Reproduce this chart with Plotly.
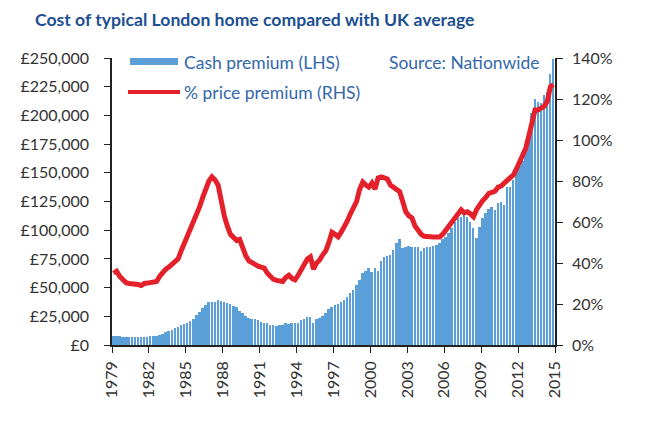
import plotly.graph_objects as go

# Quarterly data, 1979 Q1 .. 2014 Q4
years = list(range(1979, 2015))
quarters = [1, 2, 3, 4]

cash_premium = [
    7800, 7800, 7500, 7000,
    6800, 6800, 6800, 7000,
    7200, 7000, 7200, 7400,
    7500, 7600, 8000, 8800,
    10000, 11000, 12000, 13000,
    14500, 16000, 17000, 18500,
    19500, 20500, 23000, 26000,
    29000, 32000, 35000, 37700,
    37700, 37500, 39000, 38000,
    37700, 36500, 35500, 34000,
    33000, 30000, 28000, 25000,
    23500, 23000, 22400, 22000,
    20300, 19500, 18900, 17800,
    17400, 16800, 17000, 17500,
    18900, 18500, 18900, 18900,
    18900, 21500, 22400, 24100,
    24500, 19400, 22500, 23200,
    25300, 28000, 31100, 33000,
    34800, 36000, 37700, 39500,
    42000, 45000, 48000, 52000,
    57000, 63000, 64500, 66800,
    63800, 66800, 64500, 73400,
    76400, 77500, 78400, 82700,
    88500, 92300, 84200, 85500,
    86200, 85100, 85100, 85100,
    81900, 84500, 85100, 85100,
    86200, 87500, 88500, 92000,
    94300, 98000, 102000, 107400,
    110500, 111800, 113200, 111800,
    107400, 101600, 92900, 103000,
    110300, 114700, 118200, 120500,
    117600, 123400, 124800, 121900,
    137900, 137900, 143700, 152400,
    156000, 160000, 170000, 181400,
    201800, 214000, 211900, 210500,
    217750, 220600, 236000, 248800,
]

pct_premium = [
    35, 36, 33.5, 31.5,
    30.5, 30, 30, 30,
    29.5, 29, 30, 30.2,
    30.5, 30.5, 31, 33.5,
    35.5, 37, 38, 39.5,
    40.6, 42, 46, 49.5,
    53, 56, 60, 63.5,
    67.5, 72, 76.5, 80,
    82, 80.5, 78, 70,
    63, 58, 54, 52.5,
    51, 51.5, 47, 43.5,
    41, 40, 39, 38.5,
    38, 37.5, 35, 33,
    32, 31.5, 31, 31,
    33, 34, 32.5, 31.8,
    34, 37, 39, 42,
    43, 37, 40, 41.5,
    44, 46, 50, 55,
    54, 52.8, 55, 57.5,
    60.5, 64, 67, 70,
    76, 79.5, 78, 77,
    79, 76, 81.5, 82,
    81.5, 81, 78, 77,
    76, 74.8, 70, 65,
    63, 62, 58, 55.5,
    54, 53, 52.7, 52.7,
    52.7, 52.7, 52.7, 54,
    56, 58, 61, 63,
    65, 66, 64.5, 65,
    64, 62.6, 66, 68.5,
    70.5, 72, 74, 74.5,
    75, 77, 77.5, 79,
    80.5, 82, 83, 86,
    89, 92, 96, 102,
    108, 114.6, 114.6, 115.5,
    116.5, 119, 126, 127,
]

x_ticks = list(range(1979, 2016, 3))
left_ticks = list(range(0, 250001, 25000))
left_labels = ["£0"] + ["£{:,}".format(v) for v in left_ticks[1:]]
right_ticks = list(range(0, 141, 20))
right_labels = ["{}%".format(v) for v in right_ticks]

# quarter centre positions
xq = [y + (q - 0.5) / 4 for y in years for q in quarters]

# Plot area in pixels
L, R, T, B = 112, 555, 58, 345
W, H = 647, 422


def px(x):
    return (x - L) / (R - L)


def py(y):
    return (B - y) / (B - T)


BLUE_TXT = "#3368ab"
TICK_FONT = dict(family="Lato", size=16, color="#333333")

fig = go.Figure()
fig.add_trace(go.Bar(
    x=xq, y=cash_premium, name="Cash premium (LHS)",
    marker=dict(color="#5b9fd9", line=dict(width=0)),
    width=0.16, yaxis="y", showlegend=False,
))
fig.add_trace(go.Scatter(
    x=xq, y=pct_premium, name="% price premium (RHS)", mode="lines",
    line=dict(color="#e4202a", width=5), yaxis="y2", showlegend=False,
))

fig.update_layout(
    width=W, height=H,
    margin=dict(l=L, r=W - R, t=T, b=H - B),
    paper_bgcolor="white", plot_bgcolor="white",
    xaxis=dict(
        range=[1979, 2015], tickmode="array", tickvals=x_ticks,
        ticktext=[str(v) for v in x_ticks], tickangle=-90,
        ticks="outside", ticklen=6, tickcolor="#222", showline=True,
        linecolor="#222", linewidth=1.5, showgrid=False, zeroline=False,
        tickfont=TICK_FONT, ticklabelstandoff=2, automargin=False,
    ),
    yaxis=dict(
        range=[0, 250000], tickmode="array", tickvals=left_ticks,
        ticktext=left_labels, ticks="outside", ticklen=6, tickcolor="#222",
        showline=True, linecolor="#222", linewidth=1.5, showgrid=False,
        zeroline=False, tickfont=TICK_FONT, ticklabelstandoff=12,
        automargin=False,
    ),
    yaxis2=dict(
        range=[0, 140], overlaying="y", side="right", tickmode="array",
        tickvals=right_ticks, ticktext=right_labels, ticks="outside",
        ticklen=6, tickcolor="#222", showline=True, linecolor="#222",
        linewidth=1.5, showgrid=False, zeroline=False, tickfont=TICK_FONT,
        ticklabelstandoff=6, automargin=False,
    ),
    bargap=0,
)

# Title
fig.add_annotation(
    text="Cost of typical London home compared with UK average",
    xref="paper", yref="paper", x=px(33), y=py(19), xanchor="left",
    yanchor="middle", showarrow=False,
    font=dict(family="Lato", size=17.6, color="#1c4f91", weight="bold"),
)

# Manual legend
fig.add_shape(type="rect", xref="paper", yref="paper",
              x0=px(130), x1=px(178), y0=py(58), y1=py(65),
              fillcolor="#5b9fd9", line=dict(width=0))
fig.add_shape(type="line", xref="paper", yref="paper",
              x0=px(128), x1=px(180), y0=py(92), y1=py(92),
              line=dict(color="#e4202a", width=4))
fig.add_annotation(text="Cash premium (LHS)", xref="paper", yref="paper",
                   x=px(182), y=py(62), xanchor="left", yanchor="middle",
                   showarrow=False, font=dict(family="Lato", size=17.5, color=BLUE_TXT))
fig.add_annotation(text="% price premium (RHS)", xref="paper", yref="paper",
                   x=px(182), y=py(92), xanchor="left", yanchor="middle",
                   showarrow=False, font=dict(family="Lato", size=17.5, color=BLUE_TXT))
fig.add_annotation(text="Source: Nationwide", xref="paper", yref="paper",
                   x=px(542), y=py(62), xanchor="right", yanchor="middle",
                   showarrow=False, font=dict(family="Lato", size=17.5, color=BLUE_TXT))

fig.write_html("out.html", config={"displayModeBar": False},
               post_script="document.body.style.margin='0px';")
